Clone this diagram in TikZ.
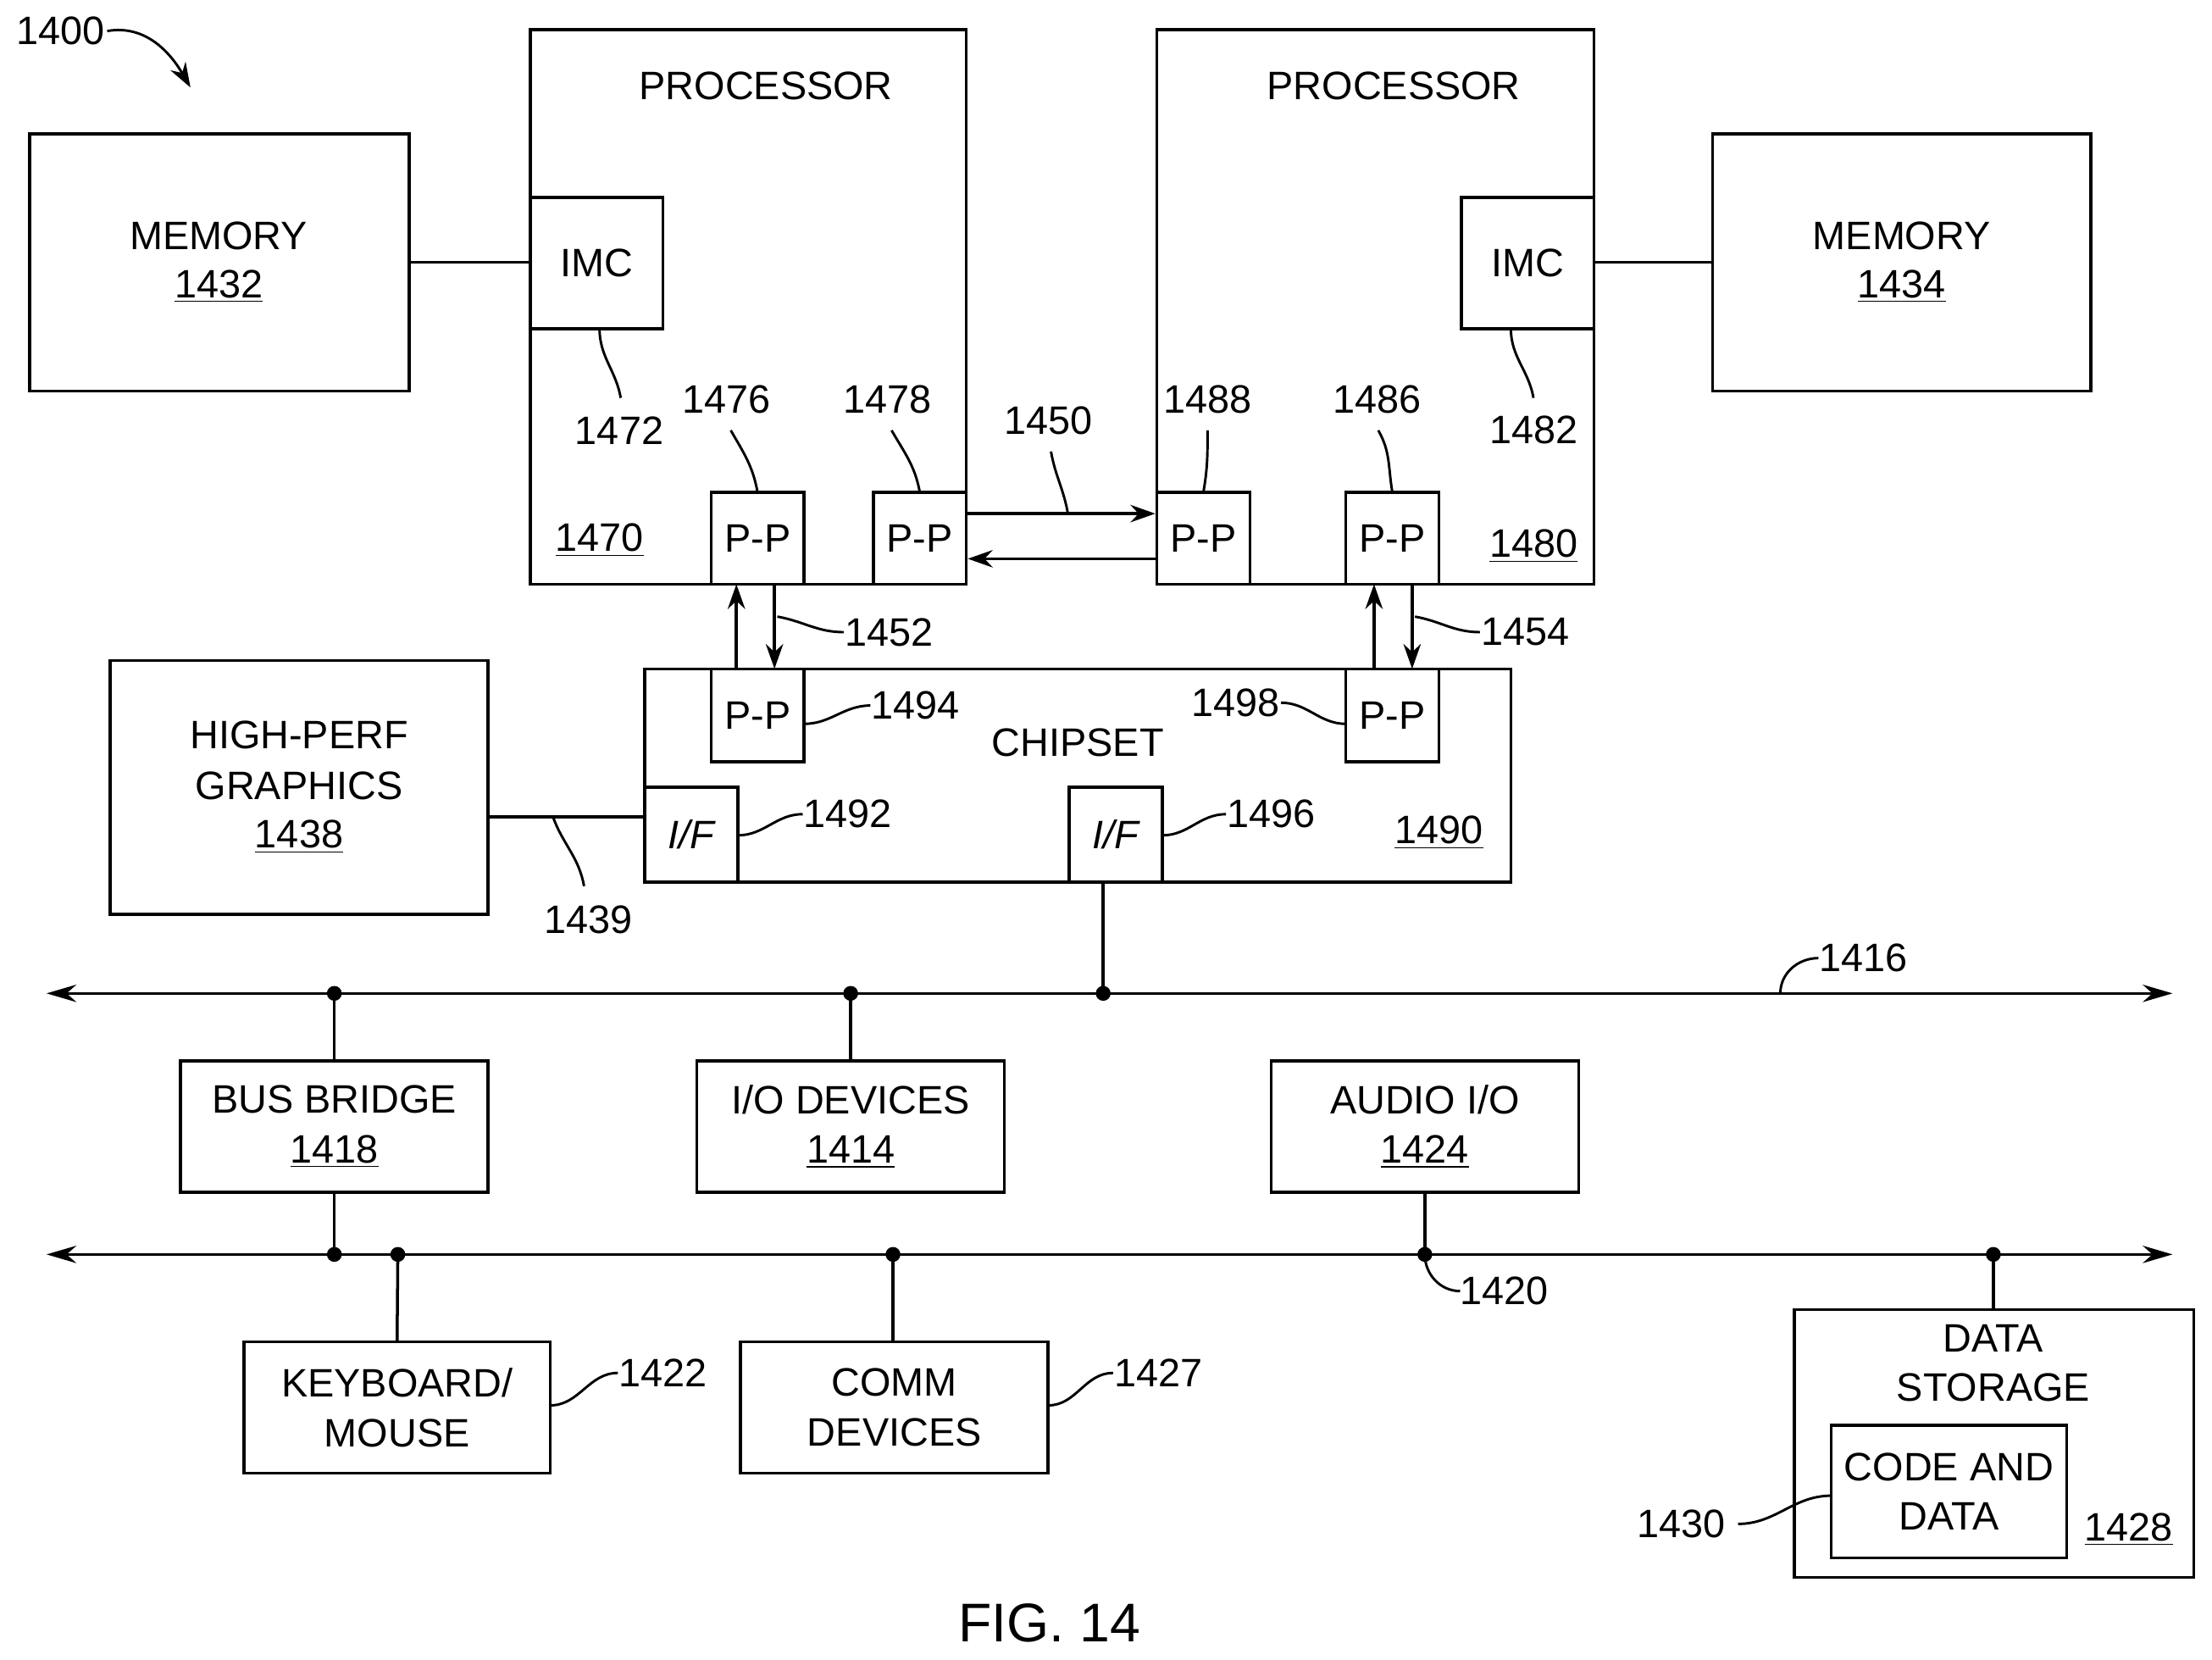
\documentclass[tikz,border=0pt]{standalone}
\usepackage{fontspec}
\setmainfont{Liberation Sans}
\usetikzlibrary{fit,arrows.meta}
\newcommand\bx[5]{\node[box,fit={(#2,#3)(#4,#5)}] (#1) {};}
\begin{document}
\begin{tikzpicture}[x=0.02cm,y=-0.02cm,
  box/.style={draw,line width=1.2pt,inner sep=0pt},
  t/.style={font=\fontsize{16}{20}\selectfont,align=center,inner sep=0pt},
  ld/.style={line width=1pt},
  ar/.style={line width=1.2pt,-{Stealth[length=10pt,width=7pt]}},
  dot/.style={circle,fill,inner sep=0pt,minimum size=6pt}]
\useasboundingbox (0,0) rectangle (1568,1176);
% boxes
\bx{m1}{21}{95}{290}{277}
\bx{p1}{376}{21}{685}{414}
\bx{imc1}{376}{140}{470}{233}
\bx{pp76}{504}{349}{570}{414}
\bx{pp78}{619}{349}{685}{414}
\bx{p2}{820}{21}{1130}{414}
\bx{imc2}{1036}{140}{1130}{233}
\bx{pp88}{820}{349}{886}{414}
\bx{pp86}{954}{349}{1020}{414}
\bx{m2}{1214}{95}{1482}{277}
\bx{cs}{457}{474}{1071}{625}
\bx{pp94}{504}{474}{570}{540}
\bx{pp98}{954}{474}{1020}{540}
\bx{if92}{457}{558}{523}{625}
\bx{if96}{758}{558}{824}{625}
\bx{gr}{78}{468}{346}{648}
\bx{bb}{128}{752}{346}{845}
\bx{io}{494}{752}{712}{845}
\bx{au}{901}{752}{1119}{845}
\bx{kb}{173}{951}{390}{1044}
\bx{cm}{525}{951}{743}{1044}
\bx{ds}{1272}{928}{1555}{1118}
\bx{cd}{1298}{1010}{1465}{1104}
% texts
\node[t] at (155,167) {MEMORY};\node[t] at (155,203) {\underline{1432}};
\node[t] at (1348,167) {MEMORY};\node[t] at (1348,203) {\underline{1434}};
\node[t] at (543,61) {PROCESSOR};\node[t] at (988,61) {PROCESSOR};
\node[t] at (imc1) {IMC};\node[t] at (imc2) {IMC};
\foreach \n in {pp76,pp78,pp88,pp86,pp94,pp98} \node[t] at (\n) {P-P};
\node[t] at (if92) {\itshape I/F};\node[t] at (if96) {\itshape I/F};
\node[t] at (425,383) {\underline{1470}};\node[t] at (1087,387) {\underline{1480}};
\node[t] at (764,526) {CHIPSET};\node[t] at (1020,590) {\underline{1490}};
\node[t] at (212,521) {HIGH-PERF};\node[t] at (212,557) {GRAPHICS};\node[t] at (212,593) {\underline{1438}};
\node[t] at (bb) {BUS BRIDGE\\\underline{1418}};
\node[t] at (io) {I/O DEVICES\\\underline{1414}};
\node[t] at (au) {AUDIO I/O\\\underline{1424}};
\node[t] at (kb) {KEYBOARD/\\MOUSE};
\node[t] at (cm) {COMM\\DEVICES};
\node[t] at (1413,966) {DATA\\STORAGE};
\node[t] at (cd) {CODE AND\\DATA};
\node[t] at (1509,1084) {\underline{1428}};
\node[t,font=\fontsize{22}{26}\selectfont] at (744,1150) {FIG. 14};
% connections
\draw[line width=1.2pt] (m1.east|-0,186) -- (imc1.west|-0,186);
\draw[line width=1.2pt] (imc2.east|-0,186) -- (m2.west|-0,186);
\draw[ar] (685,364) -- (pp88.west|-0,364);
\draw[ar] (820,396) -- (pp78.east|-0,396);
\draw[ar] (522,474) -- (522,414);
\draw[ar] (549,414) -- (549,474);
\draw[ar] (974,474) -- (974,414);
\draw[ar] (1001,414) -- (1001,474);
\draw[line width=1.2pt] (gr.east|-0,579) -- (if92.west|-0,579);
\draw[line width=1.2pt,{Stealth[length=12pt,width=7pt]}-{Stealth[length=12pt,width=7pt]}] (33,704) coordinate(b1l) -- (1540,704) coordinate(b1r);
\draw[line width=1.2pt,{Stealth[length=12pt,width=7pt]}-{Stealth[length=12pt,width=7pt]}] (33,889) coordinate(b2l) -- (1540,889) coordinate(b2r);
\foreach \x in {237,603,782} \node[dot] at (\x,704) {};
\foreach \x in {237,282,633,1010,1413} \node[dot] at (\x,889) {};
\draw[line width=1.2pt] (782,625) -- (782,704);
\draw[line width=1.2pt] (237,704) -- (bb.north);
\draw[line width=1.2pt] (603,704) -- (603,752);
\draw[line width=1.2pt] (237,845) -- (237,889);
\draw[line width=1.2pt] (282,889) -- (kb.north);
\draw[line width=1.2pt] (633,889) -- (633,951);
\draw[line width=1.2pt] (1010,845) -- (1010,889);
\draw[line width=1.2pt] (1413,889) -- (1413,928);
% labels and leaders
\node[t] (l1472) at (439,305) {1472}; \draw[ld] (425,233) to[out=-90,in=100] (440,282);
\node[t] at (515,283) {1476}; \draw[ld] (537,349) to[out=100,in=-60] (518,305);
\node[t] at (629,283) {1478}; \draw[ld] (652,349) to[out=100,in=-60] (632,305);
\node[t] at (743,298) {1450}; \draw[ld] (757,364) to[out=100,in=-80] (745,320);
\node[t] at (856,283) {1488}; \draw[ld] (853,349) to[out=80,in=-90] (856,305);
\node[t] at (976,283) {1486}; \draw[ld] (987,349) to[out=100,in=-60] (977,305);
\node[t] at (1087,305) {1482}; \draw[ld] (1071,233) to[out=-90,in=100] (1087,282);
\node[t] at (630,448) {1452}; \draw[ld] (551,437) to[out=-10,in=180] (598,448);
\node[t] at (1081,448) {1454}; \draw[ld] (1003,437) to[out=-10,in=180] (1049,448);
\node[t] at (649,500) {1494}; \draw[ld] (570,513) to[out=0,in=180] (617,500);
\node[t] at (876,498) {1498}; \draw[ld] (954,513) to[out=180,in=0] (908,498);
\node[t] at (601,577) {1492}; \draw[ld] (523,592) to[out=0,in=180] (569,577);
\node[t] at (901,577) {1496}; \draw[ld] (824,592) to[out=0,in=180] (869,577);
\node[t] at (417,652) {1439}; \draw[ld] (392,579) to[out=-70,in=100] (414,628);
\node[t] at (1321,679) {1416}; \draw[ld] (1262,704) to[out=90,in=180] (1289,679);
\node[t] at (1066,915) {1420}; \draw[ld] (1010,889) to[out=-90,in=180] (1035,915);
\node[t] at (470,973) {1422}; \draw[ld] (390,996) to[out=0,in=180] (438,973);
\node[t] at (821,973) {1427}; \draw[ld] (743,996) to[out=0,in=180] (789,973);
\node[t] at (1192,1080) {1430}; \draw[ld] (1232,1080) to[out=0,in=180] (1298,1060);
\node[t] at (43,22) {1400};
\draw[ld,-{Stealth[length=10pt,width=7pt]}] (76,22) to[out=10,in=120] (135,62);
\end{tikzpicture}
\end{document}
